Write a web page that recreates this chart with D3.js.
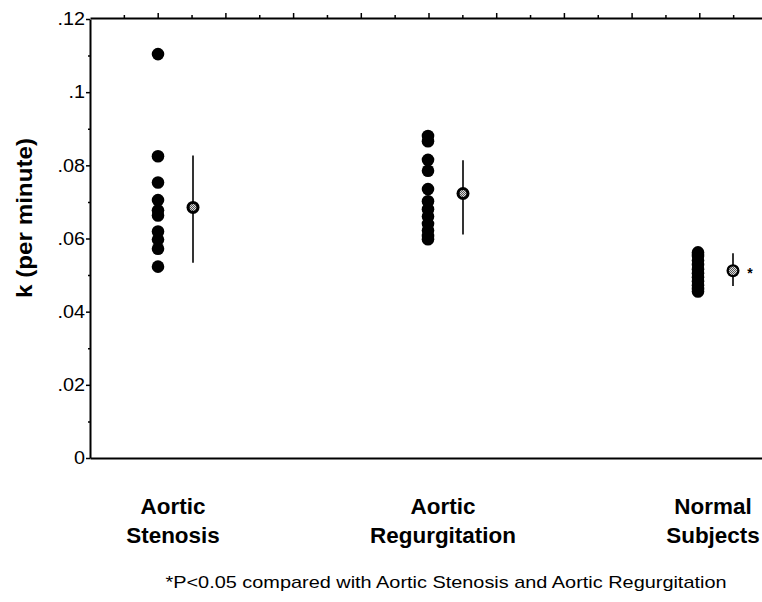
<!DOCTYPE html>
<html>
<head>
<meta charset="utf-8">
<script src="https://cdn.jsdelivr.net/npm/d3@7"></script>
<style>
  html, body { margin: 0; padding: 0; background: #fff; }
  svg { display: block; }
  text { font-family: "Liberation Sans", Arial, Helvetica, sans-serif; fill: #000; }
</style>
</head>
<body>
<svg id="chart" width="762" height="602"></svg>
<script>
// ---- data ----
const categories = ["Aortic Stenosis", "Aortic Regurgitation", "Normal Subjects"];
const categoryLines = [["Aortic", "Stenosis"], ["Aortic", "Regurgitation"], ["Normal", "Subjects"]];
const stenosisValues = [0.1104, 0.0825, 0.0753, 0.0705, 0.0677, 0.0663, 0.0619, 0.0597, 0.0572, 0.0523];
const regurgitationValues = [0.0880, 0.0866, 0.0815, 0.0785, 0.0735, 0.0702, 0.0680, 0.0660, 0.0640, 0.0622, 0.0607, 0.0598];
const normalValues = [0.0562, 0.0552, 0.0540, 0.0528, 0.0516, 0.0505, 0.0494, 0.0483, 0.0472, 0.0462, 0.0455];
const means = [0.0685, 0.0723, 0.0512];
const errLow = [0.0534, 0.0611, 0.0470];
const errHigh = [0.0827, 0.0814, 0.0560];
const significance = ["", "", "*"];
const yTickValues = [0, 0.02, 0.04, 0.06, 0.08, 0.1, 0.12];
const yTickLabels = ["0", ".02", ".04", ".06", ".08", ".1", ".12"];
const yMinorTicks = [0.01, 0.03, 0.05, 0.07, 0.09, 0.11];
const topTickValues = [1, 2, 3, 4, 5, 6, 7, 8, 9, 10];
const topMinorTicks = [0.5, 1.5, 2.5, 3.5, 4.5, 5.5, 6.5, 7.5, 8.5, 9.5];
const yLabel = "k (per minute)";
const footnote = "*P<0.05 compared with Aortic Stenosis and Aortic Regurgitation";
const groups = [stenosisValues, regurgitationValues, normalValues];

// ---- layout ----
const mLeft = 90, mTop = 18, mBottom = 458, mRight = 767;
const svg = d3.select("#chart");

const y = d3.scaleLinear().domain([0, 0.12]).range([mBottom, mTop + 1]);
const x = d3.scalePoint().domain(categories).range([158, 698]);
const xTop = d3.scaleLinear().domain([0, 10]).range([mLeft, mRight]);
const meanOffset = 35;

// pattern for mean markers
const defs = svg.append("defs");
const pat = defs.append("pattern").attr("id", "hatch").attr("patternUnits", "userSpaceOnUse")
  .attr("width", 2).attr("height", 2);
pat.append("rect").attr("width", 2).attr("height", 2).attr("fill", "#ddd");
pat.append("rect").attr("width", 1).attr("height", 1).attr("fill", "#555");
pat.append("rect").attr("x", 1).attr("y", 1).attr("width", 1).attr("height", 1).attr("fill", "#555");

// ---- axes ----
const axisStyle = g => {
  g.select(".domain").attr("stroke", "#000").attr("stroke-width", 2);
  g.selectAll(".tick line").attr("stroke", "#000").attr("stroke-width", 1.5);
};

// left axis (major with labels)
const yAxis = d3.axisLeft(y).tickValues(yTickValues).tickSize(4).tickSizeOuter(0)
  .tickFormat((d, i) => yTickLabels[i]);
svg.append("g").attr("transform", `translate(${mLeft},0)`).call(yAxis).call(axisStyle)
  .call(g => g.selectAll(".tick text").attr("font-size", 18).attr("x", null)
    .attr("transform", "translate(-5,0) scale(1.1,1)"));
svg.append("g").attr("transform", `translate(${mLeft},0)`)
  .call(d3.axisLeft(y).tickValues(yMinorTicks).tickSize(2).tickFormat(""))
  .call(axisStyle).call(g => g.select(".domain").remove());

// top axis
svg.append("g").attr("transform", `translate(0,${mTop})`)
  .call(d3.axisTop(xTop).tickValues(topTickValues).tickSize(5).tickSizeOuter(0).tickFormat(""))
  .call(axisStyle);
svg.append("g").attr("transform", `translate(0,${mTop})`)
  .call(d3.axisTop(xTop).tickValues(topMinorTicks).tickSize(3).tickFormat(""))
  .call(axisStyle).call(g => g.select(".domain").remove());

// bottom axis line
svg.append("g").attr("transform", `translate(0,${mBottom})`)
  .call(d3.axisBottom(xTop).tickValues([]).tickSizeOuter(0))
  .call(axisStyle);

// y label
svg.append("text")
  .attr("transform", `translate(32,${(mTop + mBottom) / 2 - 20}) rotate(-90) scale(1.1,1)`)
  .attr("text-anchor", "middle").attr("font-size", 22).attr("font-weight", "bold")
  .text(yLabel);

// ---- data dots ----
groups.forEach((vals, i) => {
  svg.append("g").selectAll("circle").data(vals).join("circle")
    .attr("cx", x(categories[i])).attr("cy", d => y(d)).attr("r", 6.3).attr("fill", "#000");
});

// ---- mean +/- error ----
categories.forEach((c, i) => {
  const cx = x(c) + meanOffset;
  svg.append("line").attr("x1", cx).attr("x2", cx)
    .attr("y1", y(errLow[i])).attr("y2", y(errHigh[i]))
    .attr("stroke", "#000").attr("stroke-width", 1.6);
  svg.append("circle").attr("cx", cx).attr("cy", y(means[i])).attr("r", 6.5).attr("fill", "#000");
  svg.append("circle").attr("cx", cx).attr("cy", y(means[i])).attr("r", i === 2 ? 4.2 : 3.4).attr("fill", "url(#hatch)");
  if (significance[i]) {
    svg.append("text").attr("x", cx + 17).attr("y", y(means[i]) + 7)
      .attr("text-anchor", "middle").attr("font-size", 14).attr("font-weight", "bold").text(significance[i]);
  }
});

// ---- category labels ----
categories.forEach((c, i) => {
  const t = svg.append("text").attr("text-anchor", "middle")
    .attr("transform", `translate(${x(c) + 15},514) scale(1.02,1)`)
    .attr("font-size", 22).attr("font-weight", "bold");
  categoryLines[i].forEach((line, j) => {
    t.append("tspan").attr("x", 0).attr("y", j * 29).text(line);
  });
});

// ---- footnote ----
svg.append("text").attr("transform", "translate(446,588) scale(1.17,1)").attr("text-anchor", "middle")
  .attr("font-size", 17).text(footnote);
</script>
</body>
</html>
